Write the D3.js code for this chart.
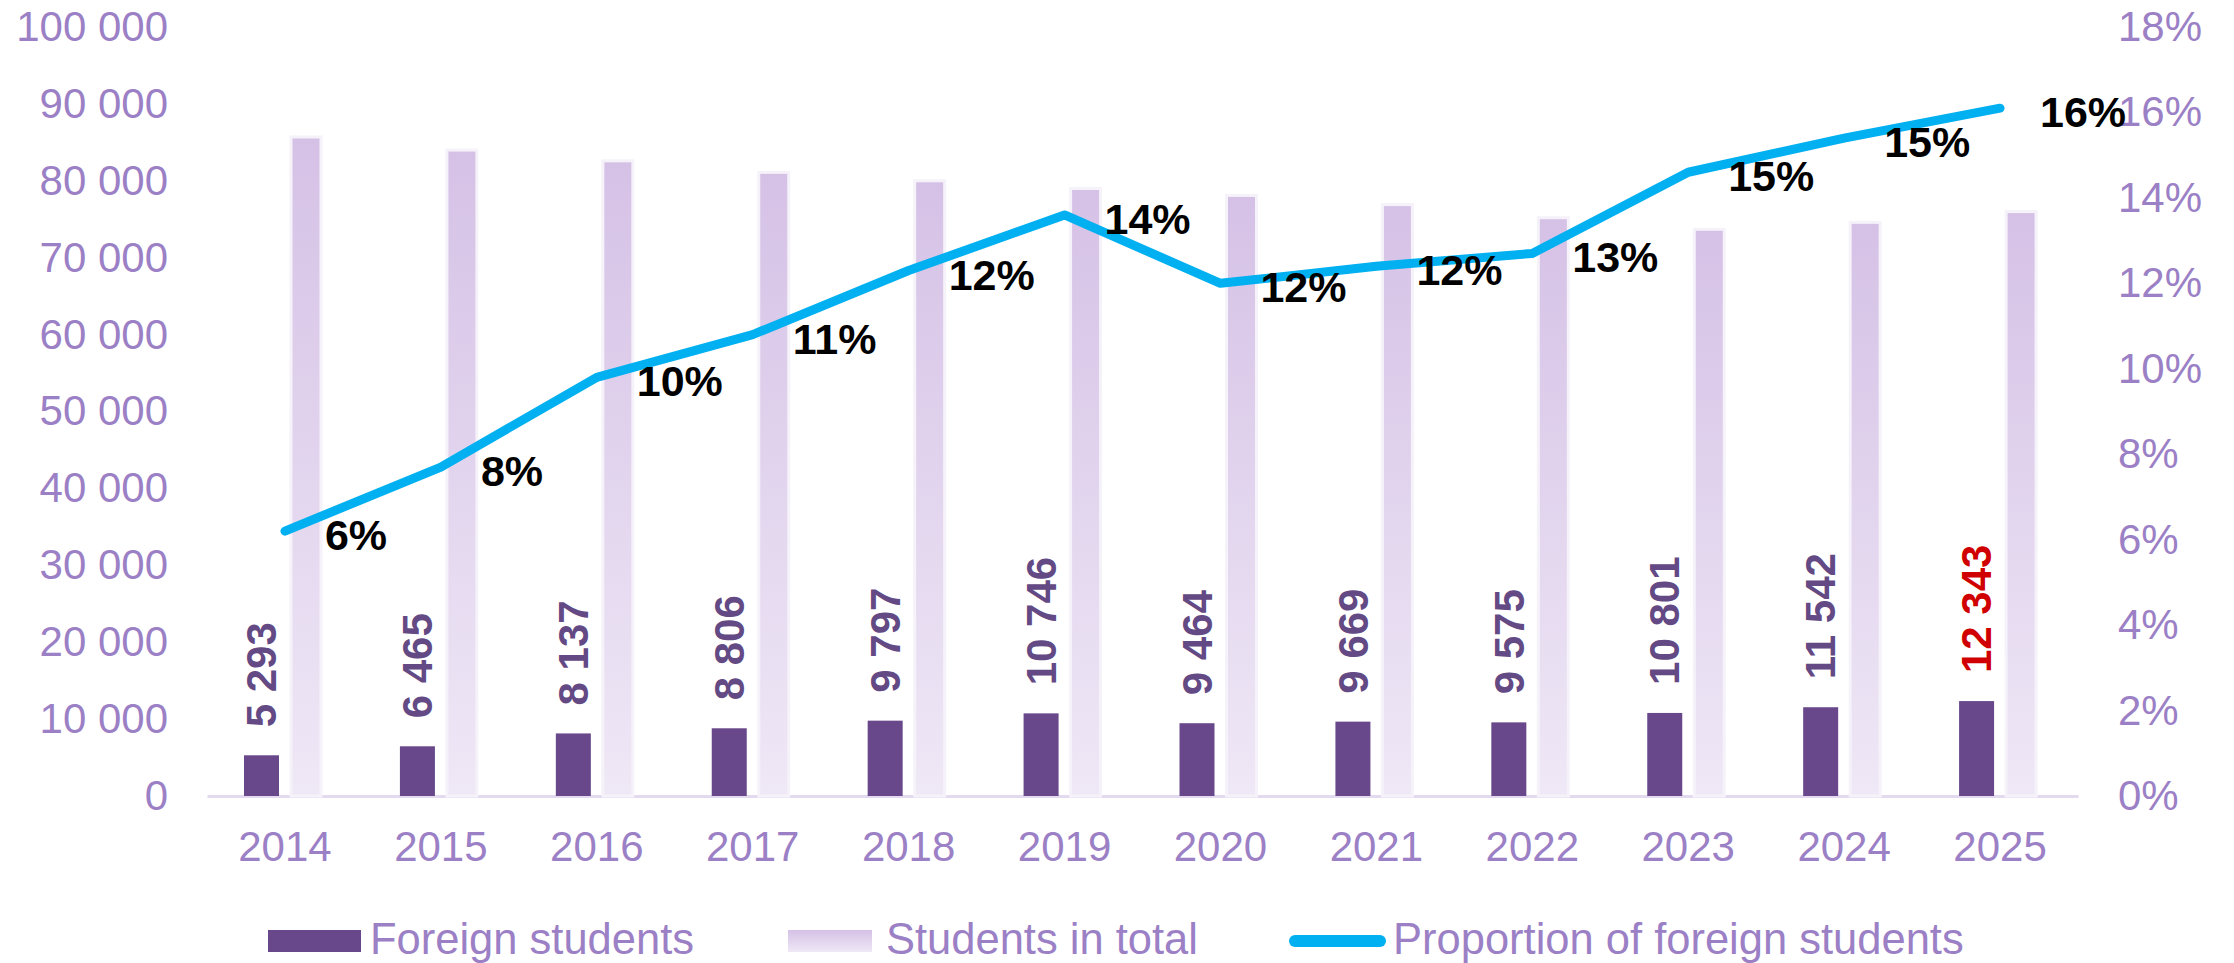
<!DOCTYPE html>
<html>
<head>
<meta charset="utf-8">
<script src="https://cdn.jsdelivr.net/npm/d3@7"></script>
<style>
  html, body { margin: 0; padding: 0; background: #fff; }
  svg { display: block; font-family: "Liberation Sans", Arial, sans-serif; }
</style>
</head>
<body>
<svg width="2234" height="963"></svg>
<script>
const years = ['2014','2015','2016','2017','2018','2019','2020','2021','2022','2023','2024','2025'];
const foreign = [5293, 6465, 8137, 8806, 9797, 10746, 9464, 9669, 9575, 10801, 11542, 12343];
const total = [85700, 84000, 82600, 81100, 80000, 79000, 78100, 76900, 75200, 73700, 74600, 76000];
const share = [0.062, 0.077, 0.098, 0.108, 0.123, 0.136, 0.120, 0.124, 0.127, 0.146, 0.154, 0.161];
const leftTicks = [0, 10000, 20000, 30000, 40000, 50000, 60000, 70000, 80000, 90000, 100000];
const rightTicks = [0, 0.02, 0.04, 0.06, 0.08, 0.10, 0.12, 0.14, 0.16, 0.18];
const legendNames = ['Foreign students', 'Students in total', 'Proportion of foreign students'];

const axisColor = '#9b80c6';
const darkPurple = '#68488a';
const lineBlue = '#00b0f0';

const svg = d3.select('svg');
const locale = d3.formatLocale({decimal: ',', thousands: ' ', grouping: [3], currency: ['', '']});
const fmtNum = locale.format(',');
const fmtPct = d3.format('.0%');

// scales
const x = d3.scaleBand().domain(years).range([207, 2078]);
const y = d3.scaleLinear().domain([0, 100000]).range([796, 27]);
const y2 = d3.scaleLinear().domain([0, 0.18]).range([796, 27]);

// gradient for total bars
const defs = svg.append('defs');
const grad = defs.append('linearGradient').attr('id', 'totGrad')
  .attr('x1', 0).attr('y1', 0).attr('x2', 0).attr('y2', 1);
grad.append('stop').attr('offset', '0%').attr('stop-color', '#d5c1e6');
grad.append('stop').attr('offset', '100%').attr('stop-color', '#efe8f6');

// axes
const gLeft = svg.append('g').attr('transform', 'translate(168,0)')
  .call(d3.axisLeft(y).tickValues(leftTicks).tickSize(0).tickPadding(0).tickFormat(fmtNum));
gLeft.select('.domain').remove();

const gRight = svg.append('g').attr('transform', 'translate(2118,0)')
  .call(d3.axisRight(y2).tickValues(rightTicks).tickSize(0).tickPadding(0).tickFormat(fmtPct));
gRight.select('.domain').remove();

const gBottom = svg.append('g').attr('transform', 'translate(0,796)')
  .call(d3.axisBottom(x).tickSize(0).tickSizeOuter(0).tickPadding(35));
gBottom.select('.domain').attr('stroke', '#e4daef').attr('stroke-width', 3);

svg.selectAll('.tick text')
  .attr('fill', axisColor)
  .style('font-size', '42px')
  .style('font-family', '"Liberation Sans", Arial, sans-serif');

// total bars
svg.append('g').selectAll('rect').data(years).join('rect')
  .attr('x', (d) => x(d) + 84)
  .attr('width', 30)
  .attr('y', (d, i) => y(total[i]))
  .attr('height', (d, i) => y(0) - y(total[i]))
  .attr('fill', 'url(#totGrad)')
  .attr('stroke', '#f6f2fa')
  .attr('stroke-width', 3);

// foreign bars
svg.append('g').selectAll('rect').data(years).join('rect')
  .attr('x', (d) => x(d) + 37)
  .attr('width', 35)
  .attr('y', (d, i) => y(foreign[i]))
  .attr('height', (d, i) => y(0) - y(foreign[i]))
  .attr('fill', darkPurple);

// foreign value labels (rotated)
svg.append('g').selectAll('text').data(years).join('text')
  .attr('transform', (d, i) => `translate(${x(d) + 37 + 17.5},${y(foreign[i]) - 28}) rotate(-90)`)
  .attr('dy', '0.35em')
  .attr('text-anchor', 'start')
  .attr('fill', (d, i) => i === years.length - 1 ? '#d00000' : '#634a84')
  .style('font-size', '42px')
  .style('font-weight', 'bold')
  .text((d, i) => fmtNum(foreign[i]));

// proportion line
const line = d3.line()
  .x((d, i) => x(years[i]) + x.bandwidth() / 2)
  .y((d) => y2(d));
svg.append('path')
  .datum(share)
  .attr('d', line)
  .attr('fill', 'none')
  .attr('stroke', lineBlue)
  .attr('stroke-width', 9)
  .attr('stroke-linejoin', 'round')
  .attr('stroke-linecap', 'round');

// proportion labels
svg.append('g').selectAll('text').data(share).join('text')
  .attr('x', (d, i) => x(years[i]) + x.bandwidth() / 2 + 40)
  .attr('y', (d) => y2(d) + 4)
  .attr('dy', '0.35em')
  .attr('fill', '#000')
  .style('font-size', '43px')
  .style('font-weight', 'bold')
  .text((d) => fmtPct(d));

// legend
const leg = svg.append('g').attr('class', 'legend');
leg.append('rect').attr('x', 268).attr('y', 930).attr('width', 93).attr('height', 22).attr('fill', darkPurple);
leg.append('rect').attr('x', 788).attr('y', 930).attr('width', 84).attr('height', 22).attr('fill', 'url(#totGrad)');
leg.append('line').attr('x1', 1295).attr('x2', 1380).attr('y1', 941).attr('y2', 941)
  .attr('stroke', lineBlue).attr('stroke-width', 12).attr('stroke-linecap', 'round');
const legX = [370, 886, 1393];
leg.selectAll('text').data(legendNames).join('text')
  .attr('x', (d, i) => legX[i])
  .attr('y', 954)
  .attr('fill', axisColor)
  .style('font-size', '43.5px')
  .text((d) => d);
</script>
</body>
</html>
